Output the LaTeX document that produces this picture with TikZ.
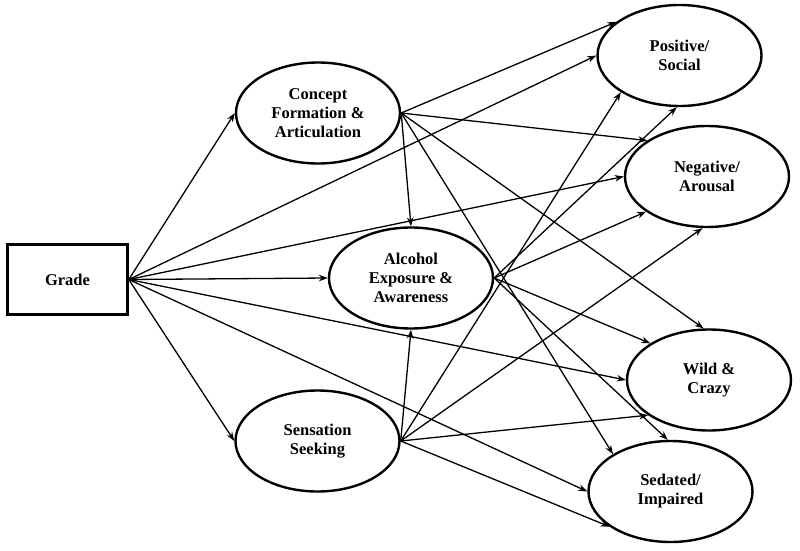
\documentclass[tikz,border=0pt]{standalone}
\usepackage{fontspec}
\setmainfont{Liberation Serif}
\usetikzlibrary{shapes.geometric,arrows.meta}
\begin{document}
\begin{tikzpicture}[x=1pt,y=-1pt,
  lat/.style={ellipse,draw,line width=2.4pt,minimum width=164pt,minimum height=101pt,inner sep=0pt,align=center,font=\bfseries\fontsize{16.5}{19}\selectfont},
  obs/.style={rectangle,draw,line width=2.6pt,minimum width=120pt,minimum height=70pt,inner sep=0pt,font=\bfseries\fontsize{16.5}{19}\selectfont},
  conn/.style={line width=1.3pt,-{Stealth[length=9pt,width=6.5pt]}}]
\useasboundingbox (0,0) rectangle (800,551);
\node[obs] (grade) at (67.5,279.5) {Grade};
\node[lat] (concept) at (318,113) {Concept\\Formation \&\\Articulation};
\node[lat] (alcohol) at (411,278) {Alcohol\\Exposure \&\\Awareness};
\node[lat] (sensation) at (317.5,441) {Sensation\\Seeking};
\node[lat] (positive) at (679.5,55.5) {Positive/\\Social};
\node[lat] (negative) at (707,176.5) {Negative/\\Arousal};
\node[lat] (wild) at (709,380) {Wild \&\\Crazy};
\node[lat] (sedated) at (670.5,491.5) {Sedated/\\Impaired};
% Grade
\draw[conn] (grade.east) -- (concept.west);
\draw[conn] (grade.east) -- (positive.180);
\draw[conn] (grade.east) -- (negative.180);
\draw[conn] (grade.east) -- (alcohol.west);
\draw[conn] (grade.east) -- (wild.180);
\draw[conn] (grade.east) -- (sedated.180);
\draw[conn] (grade.east) -- (sensation.west);
% Concept
\draw[conn] (concept.east) -- (positive.152);
\draw[conn] (concept.east) -- (negative.149);
\draw[conn] (concept.east) -- (alcohol.north);
\draw[conn] (concept.east) -- (wild.96);
\draw[conn] (concept.east) -- (sedated.147);
% Alcohol
\draw[conn] (alcohol.east) -- (positive.267);
\draw[conn] (alcohol.east) -- (negative.210);
\draw[conn] (alcohol.east) -- (wild.148);
\draw[conn] (alcohol.east) -- (sedated.93);
% Sensation
\draw[conn] (sensation.east) -- (alcohol.south);
\draw[conn] (sensation.east) -- (positive.212);
\draw[conn] (sensation.east) -- (negative.265);
\draw[conn] (sensation.east) -- (wild.210);
\draw[conn] (sensation.east) -- (sedated.210);
\end{tikzpicture}
\end{document}
